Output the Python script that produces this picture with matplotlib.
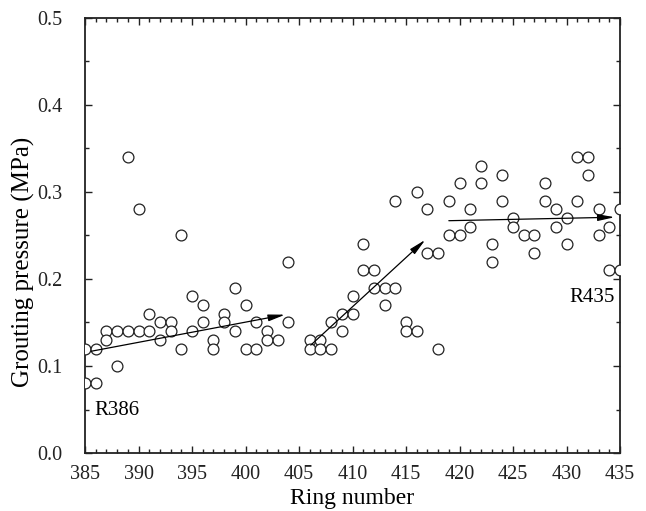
import numpy as np
import matplotlib
matplotlib.use("Agg")
import matplotlib.pyplot as plt
from matplotlib.ticker import MultipleLocator

plt.rcParams['font.family'] = ['Liberation Serif', 'DejaVu Serif']
plt.rcParams['mathtext.fontset'] = 'stix'

# grouting pressure per ring (two readings for most rings)
rings = [385, 385, 386, 386, 387, 387, 388, 388, 389, 389, 390, 390,
         391, 391, 392, 392, 393, 393, 394, 394, 395, 395, 396, 396,
         397, 397, 398, 398, 399, 399, 400, 400, 401, 401, 402, 402,
         403, 404, 404, 406, 406, 407, 407, 408, 408, 409, 409,
         410, 410, 411, 411, 412, 412, 413, 413, 414, 414, 415, 415,
         416, 416, 417, 417, 418, 418, 419, 419, 420, 420, 421, 421,
         422, 422, 423, 423, 424, 424, 425, 425, 426, 427, 427,
         428, 428, 429, 429, 430, 430, 431, 431, 432, 432, 433, 433,
         434, 434, 435, 435]
pressure = [0.12, 0.08, 0.12, 0.08, 0.14, 0.13, 0.14, 0.10, 0.34, 0.14, 0.28, 0.14,
            0.16, 0.14, 0.15, 0.13, 0.15, 0.14, 0.25, 0.12, 0.18, 0.14, 0.17, 0.15,
            0.13, 0.12, 0.16, 0.15, 0.19, 0.14, 0.17, 0.12, 0.15, 0.12, 0.14, 0.13,
            0.13, 0.22, 0.15, 0.13, 0.12, 0.13, 0.12, 0.15, 0.12, 0.16, 0.14,
            0.18, 0.16, 0.24, 0.21, 0.21, 0.19, 0.19, 0.17, 0.29, 0.19, 0.15, 0.14,
            0.30, 0.14, 0.28, 0.23, 0.23, 0.12, 0.29, 0.25, 0.31, 0.25, 0.28, 0.26,
            0.33, 0.31, 0.24, 0.22, 0.32, 0.29, 0.27, 0.26, 0.25, 0.25, 0.23,
            0.31, 0.29, 0.28, 0.26, 0.27, 0.24, 0.34, 0.29, 0.34, 0.32, 0.28, 0.25,
            0.26, 0.21, 0.28, 0.21]

# trend arrows: (start ring, start pressure, end ring, end pressure)
trend_start_x = [385.6, 406.1, 419.0]
trend_start_y = [0.117, 0.124, 0.267]
trend_end_x = [403.7, 416.8, 434.5]
trend_end_y = [0.159, 0.245, 0.271]

fig = plt.figure(figsize=(6.46, 5.11), dpi=100)
ax = fig.add_axes([0.1316, 0.1135, 0.8282, 0.8513])

ax.plot(rings, pressure, 'o', mfc='white', mec='#222222', ms=7.8, mew=0.9,
        linestyle='none', zorder=3)

for x0, y0, x1, y1 in zip(trend_start_x, trend_start_y, trend_end_x, trend_end_y):
    ax.annotate('', xy=(x1, y1), xytext=(x0, y0),
                arrowprops=dict(arrowstyle='-|>,head_length=1.0,head_width=0.2',
                                color='black', lw=0.9, shrinkA=0, shrinkB=0),
                zorder=4)

ax.text(385.9, 0.049, 'R386', fontsize=15, ha='left', va='center')
ax.text(434.5, 0.179, 'R435', fontsize=15, ha='right', va='center')

ax.set_xlim(385, 435)
ax.set_ylim(0.0, 0.5)
ax.xaxis.set_major_locator(MultipleLocator(5))
ax.xaxis.set_minor_locator(MultipleLocator(1))
ax.yaxis.set_major_locator(MultipleLocator(0.1))
ax.yaxis.set_minor_locator(MultipleLocator(0.05))
ax.yaxis.set_major_formatter(matplotlib.ticker.FormatStrFormatter('%.1f'))

ax.tick_params(which='both', direction='in', top=True, right=True,
               labelsize=14.5, width=1.0, colors='#222222')
ax.tick_params(which='major', length=5)
ax.tick_params(which='minor', length=3)
ax.tick_params(axis='x', pad=8.5)
ax.tick_params(axis='y', pad=16)
for s in ax.spines.values():
    s.set_linewidth(1.3)
    s.set_color('#222222')

ax.set_xlabel('Ring number', fontsize=17, labelpad=3)
ax.set_ylabel('Grouting pressure (MPa)', fontsize=18, labelpad=-3)
ax.yaxis.set_label_coords(-0.093, 0.44)

fig.savefig('out.png', dpi=100)
